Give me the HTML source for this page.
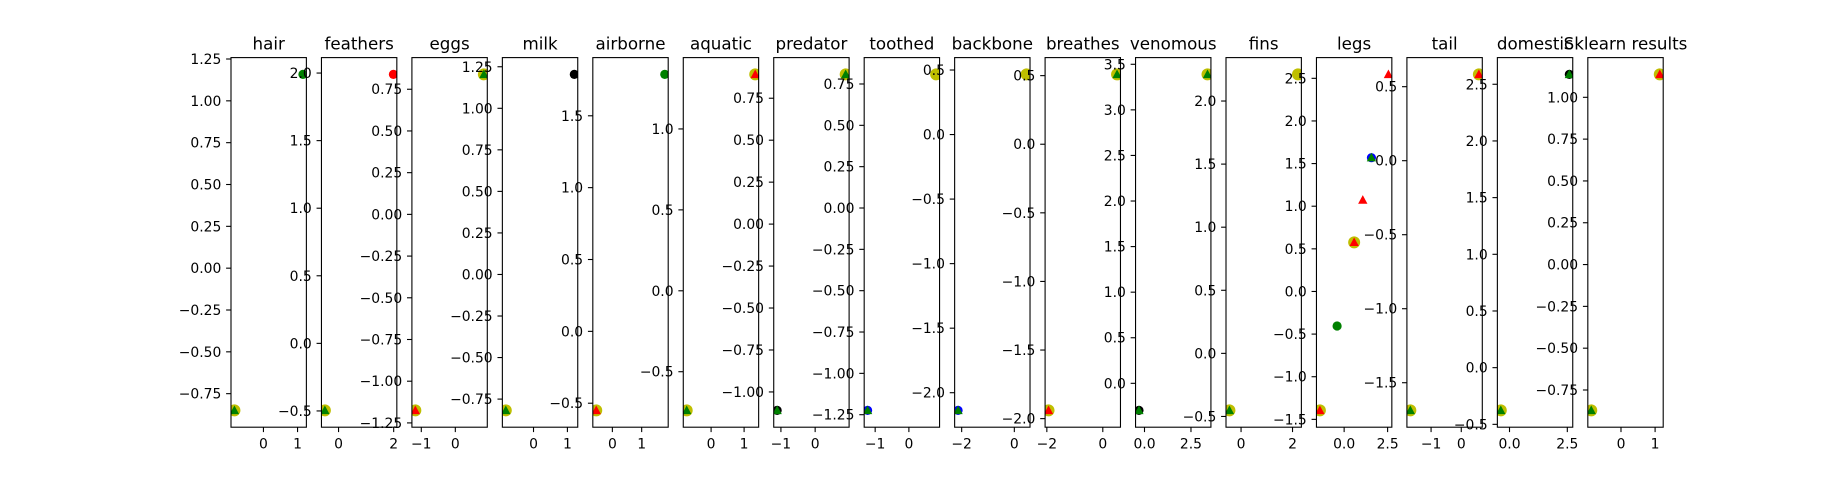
<!DOCTYPE html>
<html><head><meta charset="utf-8"><title>Feature scatter</title>
<style>
html,body{margin:0;padding:0;background:#fff;}
svg{display:block;font-family:"DejaVu Sans","Liberation Sans",sans-serif;}
</style></head>
<body>
<svg id="fig" width="1848" height="480" viewBox="0 0 1848 480" xmlns="http://www.w3.org/2000/svg">
<rect x="0" y="0" width="1848" height="480" fill="#fff"/>
<defs id="defs"></defs>
</svg>
<script>
const features = ["hair","feathers","eggs","milk","airborne","aquatic","predator","toothed","backbone","breathes","venomous","fins","legs","tail","domestic","Sklearn results"];
const lowVals  = [-0.85,-0.496,-1.175,-0.818,-0.55,-0.739,-1.11,-1.224,-2.137,-1.94,-0.297,-0.452,-1.395,-1.687,-0.377,-0.872];
const highVals = [1.158,1.99,0.839,1.204,1.788,1.337,0.892,0.808,0.466,0.509,3.389,2.211,2.546,0.583,2.587,1.137];
const lowMarkers  = ["yc+gt","yc+gt","yc+rt","yc+gt","yc+rt","yc+gt","kc+gt","bc+gt","bc+gt","yc+rt","kc+gt","yc+gt","yc+rt","yc+gt","yc+gt","yc+gt"];
const highMarkers = ["gc","rc","yc+gt","kc","gc","yc+rt","yc+gt","yc","yc","yc+gt","yc+gt","yc","rt","yc+rt","kc+gt","yc+rt"];
const legsExtraVals = [-0.405,0.576,1.072,1.569];
const legsExtraMarkers = ["gc","yc+rt","rt","bc+gt"];
const yTicks = [
 [-0.75,-0.5,-0.25,0,0.25,0.5,0.75,1,1.25],
 [-0.5,0,0.5,1,1.5,2],
 [-1.25,-1,-0.75,-0.5,-0.25,0,0.25,0.5,0.75],
 [-0.75,-0.5,-0.25,0,0.25,0.5,0.75,1,1.25],
 [-0.5,0,0.5,1,1.5],
 [-0.5,0,0.5,1],
 [-1,-0.75,-0.5,-0.25,0,0.25,0.5,0.75],
 [-1.25,-1,-0.75,-0.5,-0.25,0,0.25,0.5,0.75],
 [-2,-1.5,-1,-0.5,0,0.5],
 [-2,-1.5,-1,-0.5,0,0.5],
 [0,0.5,1,1.5,2,2.5,3,3.5],
 [-0.5,0,0.5,1,1.5,2],
 [-1.5,-1,-0.5,0,0.5,1,1.5,2,2.5],
 [-1.5,-1,-0.5,0,0.5],
 [-0.5,0,0.5,1,1.5,2,2.5],
 [-0.75,-0.5,-0.25,0,0.25,0.5,0.75,1]
];
const yDecimals = [2,1,2,2,1,1,2,2,1,1,1,1,1,1,1,2];
const xTicks = [[0,1],[0,2],[-1,0],[0,1],[0,1],[0,1],[-1,0],[-1,0],[-2,0],[-2,0],[0,2.5],[0,2],[0,2.5],[-1,0],[0,2.5],[0,1]];
const xDecimals = [0,0,0,0,0,0,0,0,0,0,1,0,1,0,1,0];

const NS="http://www.w3.org/2000/svg";
const svg=document.getElementById('fig');
const defs=document.getElementById('defs');
const L=231, R=1663.2, T=57.6, B=427.2, N=16;
const AW=(R-L)/(N+(N-1)*0.2), GAP=AW*0.2;
const COL={y:"#bfbf00",g:"#008000",r:"#ff0000",b:"#0000ff",k:"#000000"};
function mk(tag,attrs){const e=document.createElementNS(NS,tag);for(const k in attrs)e.setAttribute(k,attrs[k]);return e;}
function fmt(v,d){let s=Math.abs(v).toFixed(d);return (v<-1e-9?"\u2212":"")+s;}

features.forEach((name,i)=>{
  const x0=L+i*(AW+GAP), x1=x0+AW;
  const vals=[lowVals[i],highVals[i]];
  const marks=[lowMarkers[i],highMarkers[i]];
  if(name==="legs"){legsExtraVals.forEach((v,j)=>{vals.push(v);marks.push(legsExtraMarkers[j]);});}
  const mn=Math.min(...vals), mx=Math.max(...vals), m=(mx-mn)*0.05;
  const lo=mn-m, hi=mx+m;
  const sx=v=>x0+(v-lo)/(hi-lo)*AW;
  const sy=v=>B-(v-lo)/(hi-lo)*(B-T);
  const g=mk('g',{});
  
  
  svg.appendChild(g);
  const cp=mk('clipPath',{id:'clip'+i});
  cp.appendChild(mk('rect',{x:x0,y:T,width:AW,height:B-T}));
  defs.appendChild(cp);
  const t=mk('text',{x:(x0+x1)/2,y:49.5,'text-anchor':'middle','font-size':'16.7',fill:'#000'});
  
  
  t.textContent=name; g.appendChild(t);
  const pg=mk('g',{'clip-path':'url(#clip'+i+')'});
  
  
  g.appendChild(pg);
  vals.forEach((v,j)=>{
    const px=sx(v), py=sy(v);
    marks[j].split('+').forEach(code=>{
      const c=COL[code[0]];
      let el;
      if(code[1]==='c'){
        const r=code[0]==='y'?6:4.6;
        el=mk('circle',{cx:px,cy:py,r:r,fill:c});
      } else {
        const h=4.9;
        el=mk('polygon',{points:`${px},${py-h} ${px-h*0.95},${py+h*0.75} ${px+h*0.95},${py+h*0.75}`,fill:c});
      }
      
      
      pg.appendChild(el);
    });
  });
  const fr=mk('rect',{x:x0,y:T,width:AW,height:B-T,fill:'none',stroke:'#000','stroke-width':'1.1'});
  
  
  g.appendChild(fr);
  yTicks[i].forEach(v=>{
    const y=sy(v);
    const tk=mk('line',{x1:x0-4.9,y1:y,x2:x0,y2:y,stroke:'#000','stroke-width':'1.1'});
    
    
    g.appendChild(tk);
    const lb=mk('text',{x:x0-9.7,y:y+5,'text-anchor':'end','font-size':'13.9',fill:'#000'});
    
    
    lb.textContent=fmt(v,yDecimals[i]); g.appendChild(lb);
  });
  xTicks[i].forEach(v=>{
    const x=sx(v);
    const tk=mk('line',{x1:x,y1:B,x2:x,y2:B+4.9,stroke:'#000','stroke-width':'1.1'});
    
    
    g.appendChild(tk);
    const lb=mk('text',{x:x,y:448.5,'text-anchor':'middle','font-size':'13.9',fill:'#000'});
    
    
    lb.textContent=fmt(v,xDecimals[i]); g.appendChild(lb);
  });
});
</script>
</body></html>
